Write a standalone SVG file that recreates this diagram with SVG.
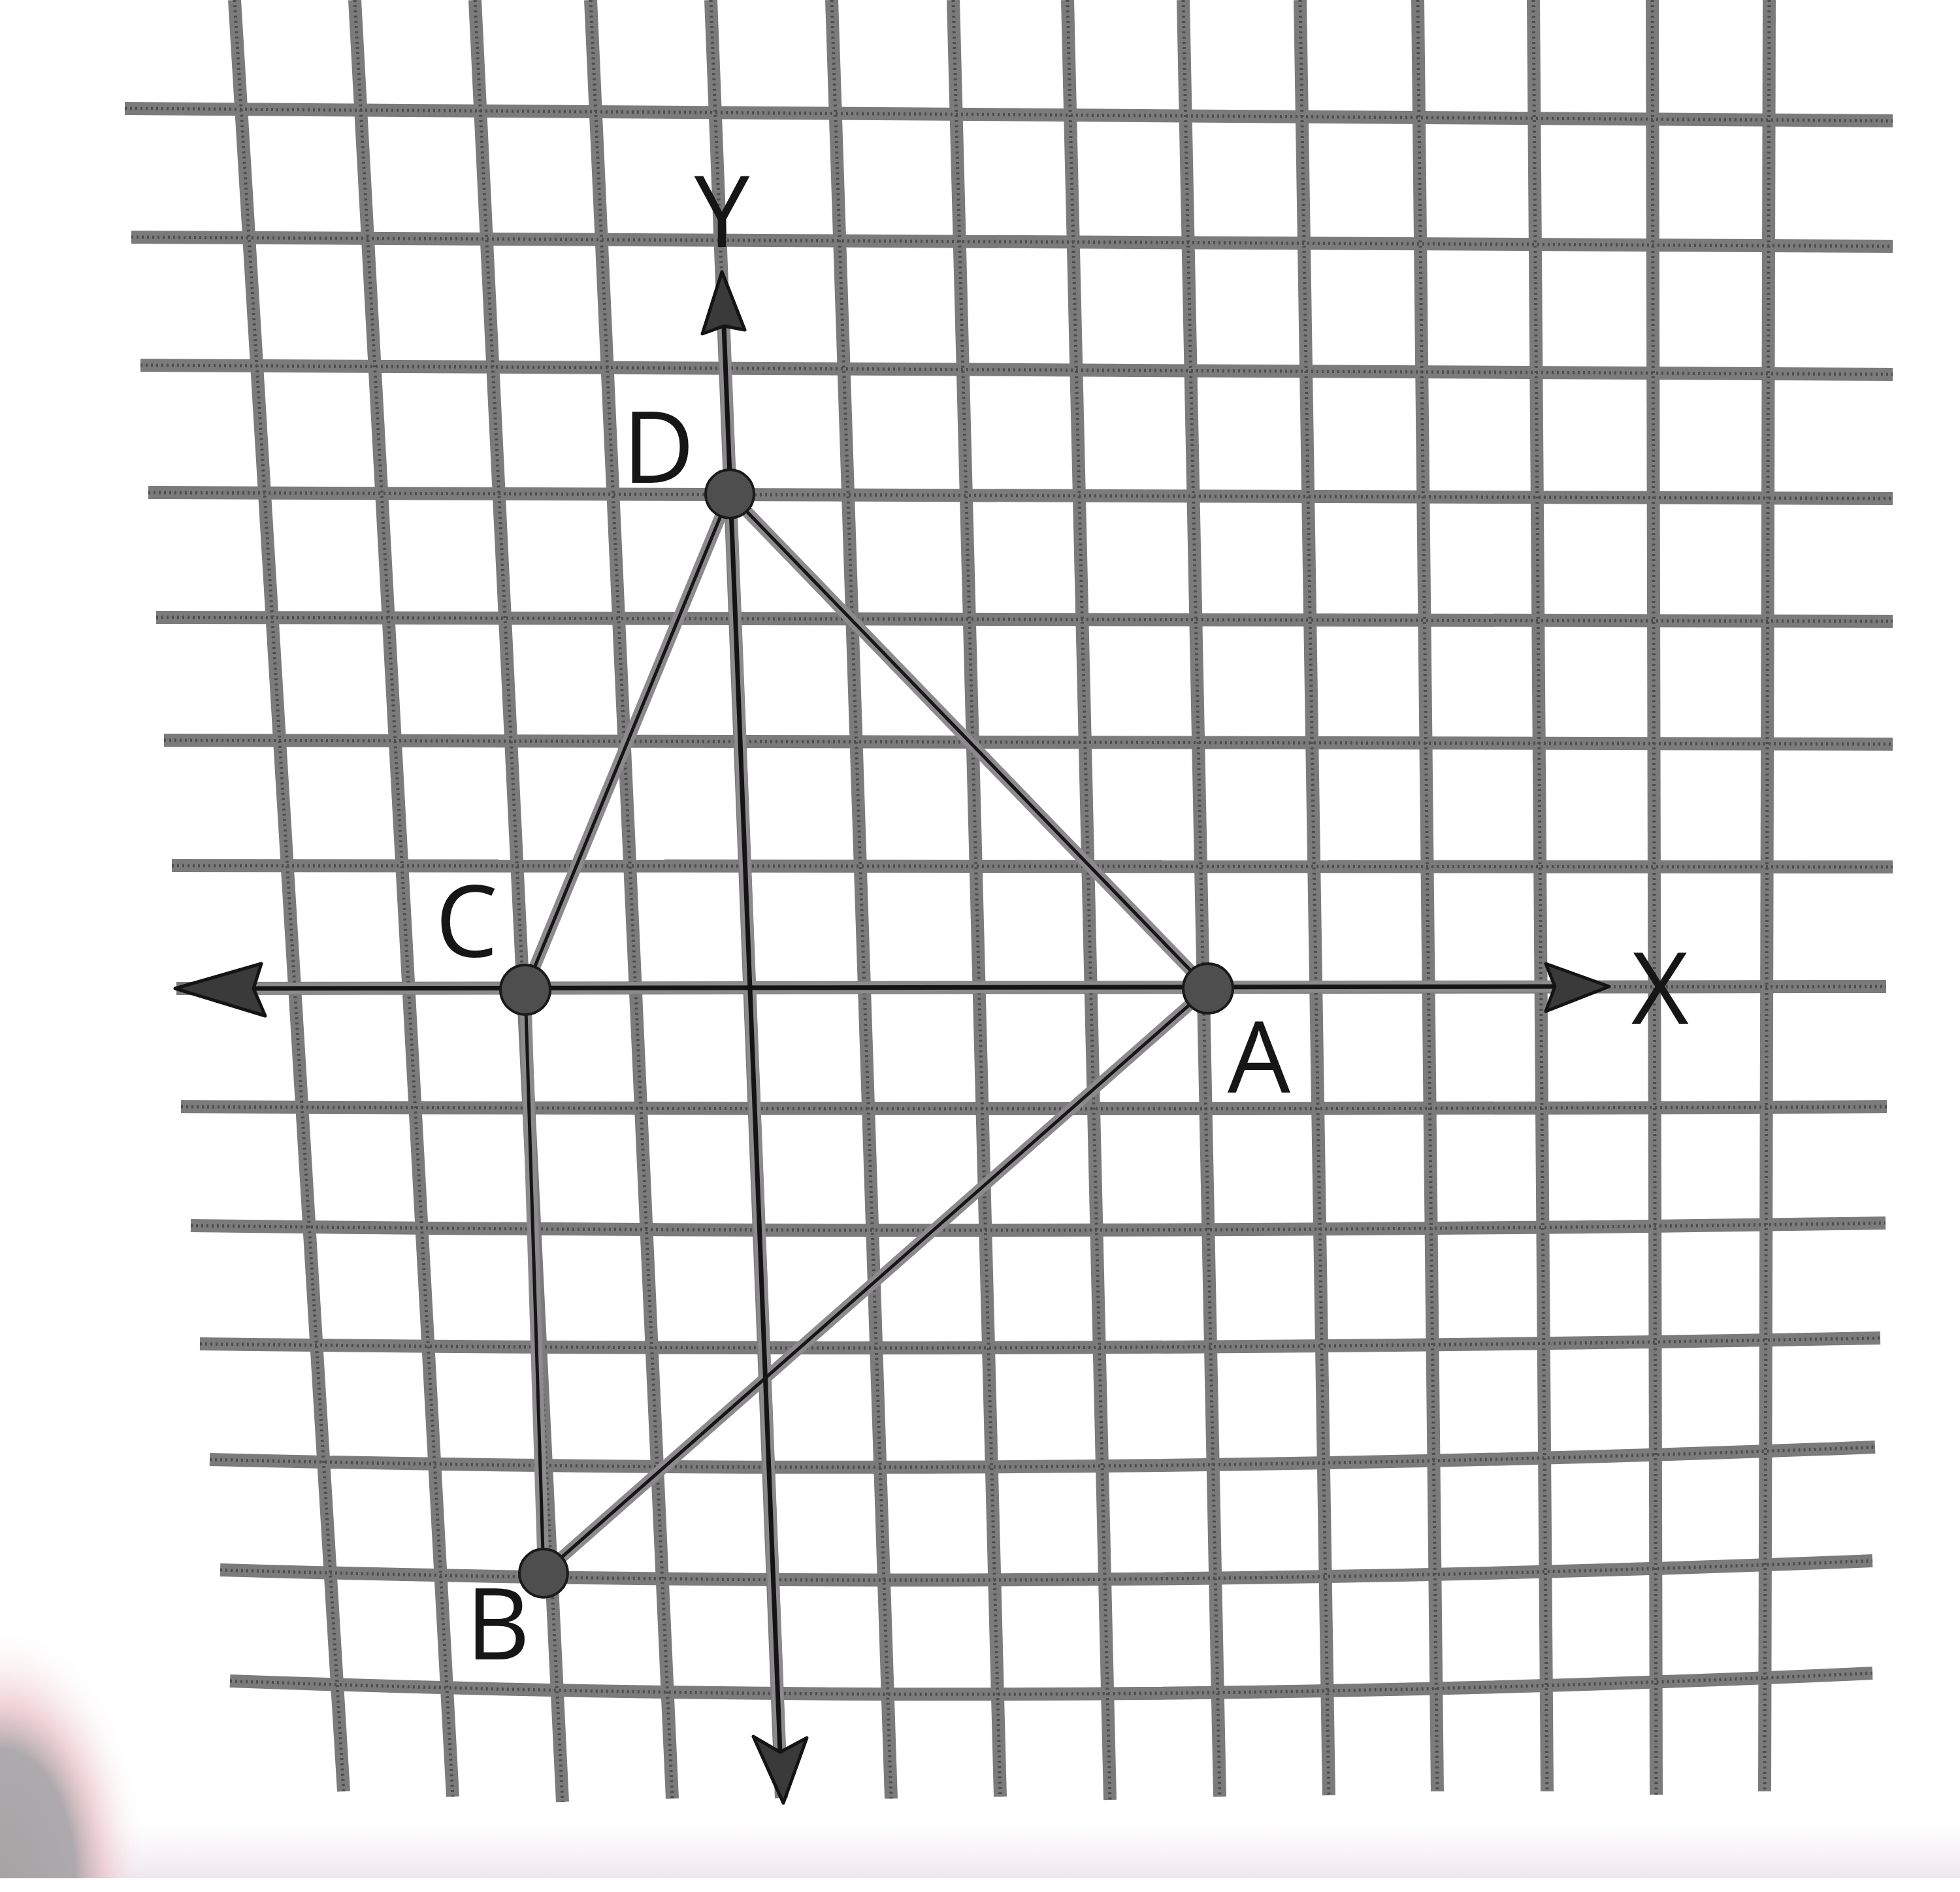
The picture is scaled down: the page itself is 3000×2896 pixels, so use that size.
<svg xmlns="http://www.w3.org/2000/svg" xmlns:xlink="http://www.w3.org/1999/xlink" width="3000" height="2896" viewBox="0 0 3000 2896">
<style>
.gbase{fill:none;stroke:#7c7b7c;stroke-width:20;stroke-linecap:butt}
.gtex{fill:none;stroke:#2a2a2a;stroke-width:5;stroke-dasharray:3 5;opacity:0.55}
.halo{fill:none;stroke:#8c8a8c;stroke-width:18;stroke-linecap:round}
.axis{fill:none;stroke:#141414;stroke-width:7}
.seg{fill:none;stroke:#161616;stroke-width:5;stroke-linecap:round}
.head{fill:#3a3a3a;stroke:#141414;stroke-width:5;stroke-linejoin:round}
.pt{fill:#4e4e4e;stroke:#1a1a1a;stroke-width:4}
.lbl{font-family:"Open Sans","Liberation Sans",sans-serif;font-size:152px;fill:#161616;text-anchor:middle}
</style>
<defs>
<radialGradient id="shadow" cx="0" cy="1" r="1">
<stop offset="0" stop-color="#a7a3a5" stop-opacity="1"/>
<stop offset="0.5" stop-color="#aaa5a8" stop-opacity="0.95"/>
<stop offset="0.68" stop-color="#e6b8bf" stop-opacity="0.6"/>
<stop offset="1" stop-color="#ffffff" stop-opacity="0"/>
</radialGradient>
<linearGradient id="bottomband" x1="0" y1="2790" x2="0" y2="2875" gradientUnits="userSpaceOnUse">
<stop offset="0" stop-color="#f1e6ee" stop-opacity="0"/>
<stop offset="1" stop-color="#e6dbe6" stop-opacity="0.7"/>
</linearGradient>
<g id="gridlines">
<path d="M191 166 L2897 185"/>
<path d="M201 363 L2897 377"/>
<path d="M215 559 L2897 573"/>
<path d="M227 754 L2897 763"/>
<path d="M239 945 L2897 951"/>
<path d="M251 1133 L2897 1139"/>
<path d="M263 1325 L2897 1327"/>
<path d="M270 1513 L2887 1510"/>
<path d="M277 1694 Q1582 1700 2888 1694"/>
<path d="M292 1876 Q1589 1892 2886 1872"/>
<path d="M306 2057 Q1592 2073 2878 2048"/>
<path d="M321 2234 Q1595 2265 2870 2215"/>
<path d="M337 2403 Q1601 2440 2866 2389"/>
<path d="M352 2573 Q1609 2619 2866 2561"/>
<path d="M359 0 L526 2742"/>
<path d="M543 0 L693 2750"/>
<path d="M727 0 L861 2758"/>
<path d="M904 0 L1029 2753"/>
<path d="M1088 0 L1196 2752"/>
<path d="M1273 0 L1364 2753"/>
<path d="M1459 0 L1531 2750"/>
<path d="M1634 0 L1699 2755"/>
<path d="M1811 0 L1867 2750"/>
<path d="M1990 0 L2034 2748"/>
<path d="M2170 0 L2200 2742"/>
<path d="M2347 0 L2368 2742"/>
<path d="M2529 0 L2535 2747"/>
<path d="M2708 0 L2701 2742"/>
</g>
<g id="segpaths">
<path d="M1117 756 L804 1515"/>
<path d="M1117 756 L1849 1513"/>
<path d="M804 1515 L832 2408"/>
<path d="M1849 1513 L832 2408"/>
</g>
<g id="axispaths">
<path d="M388 1513 L2380 1510"/>
<path d="M1108 499 L1194 2682"/>
</g>
</defs>
<rect x="0" y="0" width="3000" height="2896" fill="#ffffff"/>
<rect x="0" y="2790" width="3000" height="85" fill="url(#bottomband)"/>
<rect x="0" y="2480" width="230" height="395" fill="url(#shadow)"/>
<g id="grid">
<use xlink:href="#gridlines" class="gbase"/>
<use xlink:href="#gridlines" class="gtex"/>
</g>
<g id="connectors">
<use xlink:href="#segpaths" class="halo"/>
<use xlink:href="#axispaths" class="halo"/>
<use xlink:href="#axispaths" class="axis"/>
<use xlink:href="#segpaths" class="seg"/>
<path class="head" d="M268 1513 L400 1475 L388 1513 L406 1555 Z"/>
<path class="head" d="M2463 1510 L2366 1475 L2380 1510 L2366 1548 Z"/>
<path class="head" d="M1105 416 L1140 505 L1108 499 L1075 511 Z"/>
<path class="head" d="M1199 2760 L1153 2658 L1194 2682 L1235 2660 Z"/>
</g>
<g id="axis-x"><text class="lbl" x="2541" y="1567">X</text></g>
<g id="axis-y"><text class="lbl" x="1105" y="378">Y</text></g>
<g id="node-D"><circle class="pt" cx="1117" cy="756" r="37"/><text class="lbl" x="1008" y="739">D</text></g>
<g id="node-C"><circle class="pt" cx="804" cy="1515" r="38"/><text class="lbl" x="714" y="1465">C</text></g>
<g id="node-A"><circle class="pt" cx="1849" cy="1513" r="38"/><text class="lbl" x="1927" y="1673">A</text></g>
<g id="node-B"><circle class="pt" cx="832" cy="2408" r="37"/><text class="lbl" x="762" y="2540">B</text></g>
</svg>
